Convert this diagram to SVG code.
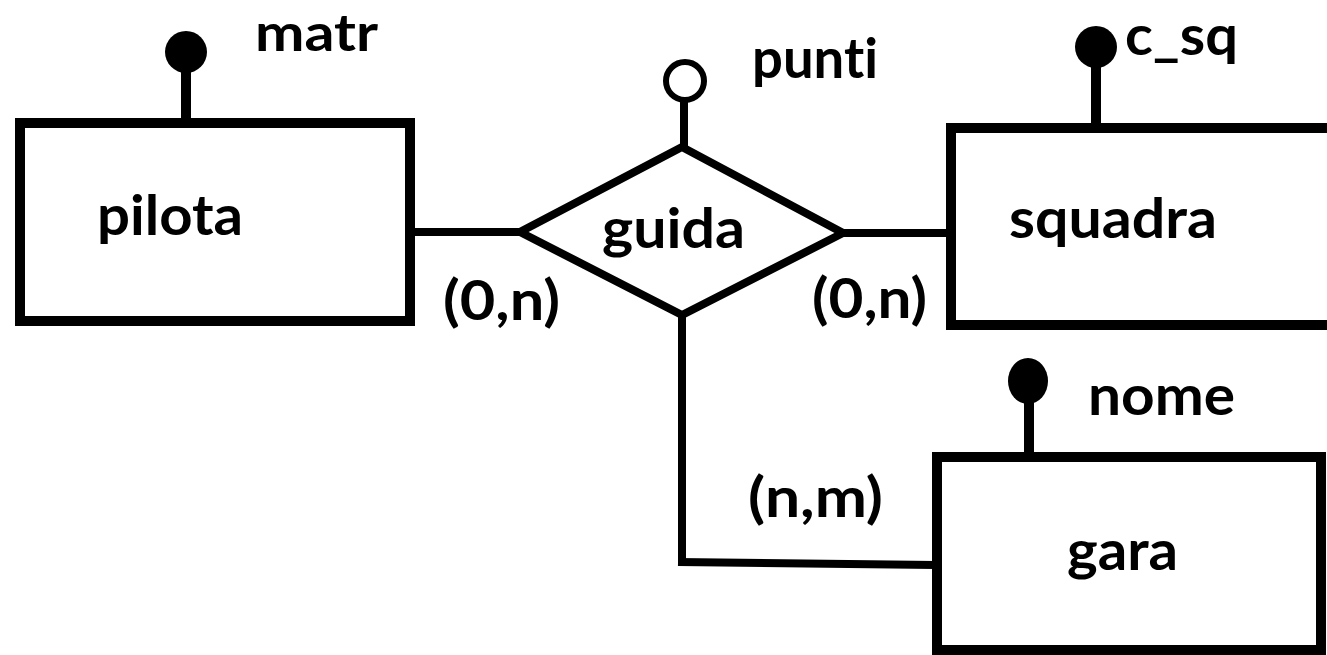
<svg xmlns="http://www.w3.org/2000/svg" width="1327" height="655" viewBox="0 0 1327 655">
<style>
.ent{fill:#fff;stroke:#000;stroke-width:10}
.rel{fill:#fff;stroke:#000;stroke-width:8;stroke-linejoin:miter}
.ln{fill:none;stroke:#000;stroke-width:8}
.at{fill:none;stroke:#000;stroke-width:10}
.key{fill:#000}
.opt{fill:#fff;stroke:#000;stroke-width:6}
text{font-family:Lato,"Liberation Sans",Arial,sans-serif;font-weight:bold;font-size:56px;fill:#000;font-variant-ligatures:none;font-feature-settings:"liga" 0,"clig" 0,"dlig" 0}
</style>
<rect width="1327" height="655" fill="#fff"/>
<g id="connectors">
<line class="ln" x1="410" y1="232" x2="522" y2="232"/>
<line class="ln" x1="842" y1="233" x2="956" y2="233"/>
<polyline class="ln" points="682,315 682,566"/>
<line class="ln" x1="678" y1="562" x2="935" y2="565"/>
</g>
<g id="pilota">
<line class="at" x1="186" y1="52" x2="186" y2="120"/>
<circle class="key" cx="186" cy="52" r="21"/>
<text x="255" y="51" style="font-size:51px" textLength="123" lengthAdjust="spacingAndGlyphs">matr</text>
<rect class="ent" x="20" y="123" width="390" height="198"/>
<text x="97" y="235" textLength="146" lengthAdjust="spacingAndGlyphs">pilota</text>
</g>
<g id="guida">
<line class="ln" x1="684" y1="100" x2="684" y2="148"/>
<circle class="opt" cx="685" cy="81" r="19"/>
<text x="752" y="78" textLength="126" lengthAdjust="spacingAndGlyphs">punti</text>
<polygon class="rel" points="682,147 843,233 682,315 520,232"/>
<text x="602" y="248" textLength="143" lengthAdjust="spacingAndGlyphs">guida</text>
<text x="443" y="320" textLength="117" lengthAdjust="spacingAndGlyphs">(0,n)</text>
<text x="812" y="318" textLength="115" lengthAdjust="spacingAndGlyphs">(0,n)</text>
<text x="748" y="517" textLength="135" lengthAdjust="spacingAndGlyphs">(n,m)</text>
</g>
<g id="squadra">
<line class="at" x1="1096" y1="47" x2="1096" y2="125"/>
<circle class="key" cx="1096" cy="47" r="21"/>
<text x="1125" y="55" textLength="113" lengthAdjust="spacingAndGlyphs">c_sq</text>
<rect class="ent" x="951" y="128" width="390" height="197"/>
<text x="1009" y="238" textLength="208" lengthAdjust="spacingAndGlyphs">squadra</text>
</g>
<g id="gara">
<line class="at" x1="1029" y1="382" x2="1029" y2="454"/>
<ellipse class="key" cx="1028" cy="381" rx="20" ry="23"/>
<text x="1088" y="415" textLength="147" lengthAdjust="spacingAndGlyphs">nome</text>
<rect class="ent" x="937" y="457" width="384" height="193"/>
<text x="1067" y="570" textLength="111" lengthAdjust="spacingAndGlyphs">gara</text>
</g>
</svg>
